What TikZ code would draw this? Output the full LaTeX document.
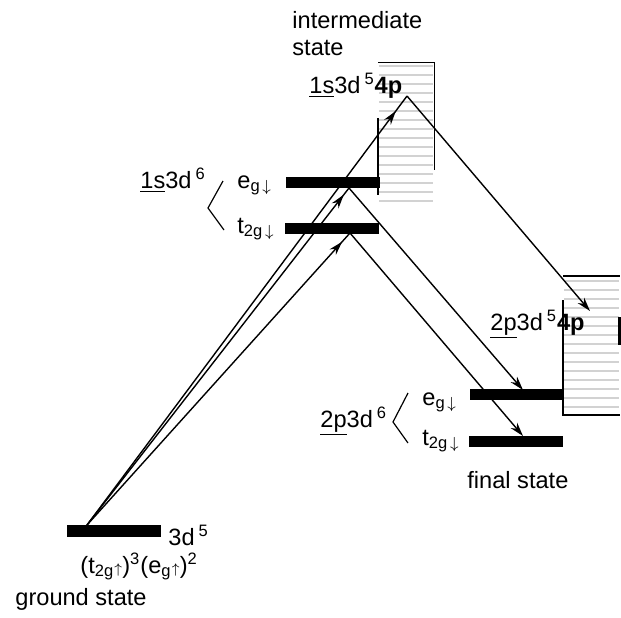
\documentclass[tikz,border=0pt]{standalone}
\usepackage{fontspec}
\setmainfont{Liberation Sans}
\usetikzlibrary{arrows.meta,decorations.markings}

\tikzset{
    level/.style={fill=black, inner sep=0pt, minimum width=47pt, minimum height=5.5pt},
    lbl/.style={anchor=base west, inner sep=0pt},
    trans/.style={line width=0.7pt},
    tipat/.style={postaction={decorate}, decoration={markings,
        mark=at position #1 with {\arrow{Stealth[length=7pt,width=4.2pt]}}}},
    hatch/.style={gray!35, line width=1.3pt},
}

\begin{document}
\begin{tikzpicture}[x=0.5pt, y=-0.5pt, font=\fontsize{11.8}{13.5}\selectfont]
    \useasboundingbox (0,0) rectangle (621,617);

    % 4p continuum boxes
    \foreach \yy in {66,75,...,203}
        \draw[hatch] (379,\yy) -- (433,\yy);
    \draw[line width=0.5pt] (378,62) -- (434,62) -- (434,170);
    \draw[line width=0.8pt] (378,118) -- (378,195);
    \foreach \yy in {281,290,...,411}
        \draw[hatch] (564,\yy) -- (619,\yy);
    \draw[line width=0.8pt] (563,276) -- (620,276);
    \draw[line width=0.8pt] (563,300) -- (563,415) -- (620,415);
    \draw[line width=1.2pt] (619.4,317) -- (619.4,345);

    % Levels
    \node[level, minimum height=6pt] (gs) at (113.5,531) {};
    \node[level] (ieg) at (332.5,182) {};
    \node[level] (it2g) at (331.5,228.5) {};
    \node[level] (feg) at (516.5,394.5) {};
    \node[level] (ft2g) at (515.5,441.5) {};

    % Transition points
    \coordinate (g0) at (87,525);
    \coordinate (i4p) at (407,96);
    \coordinate (ieg0) at (349,188);
    \coordinate (it2g0) at (350,233);
    \coordinate (f4p) at (590,311);
    \coordinate (feg0) at (523,390);
    \coordinate (ft2g0) at (523,436);

    % Transitions
    \draw[trans, tipat=0.965] (g0) -- (i4p);
    \draw[trans, tipat=0.98] (g0) -- (ieg0);
    \draw[trans, tipat=0.97] (g0) -- (it2g0);
    \draw[trans, -{Stealth[length=7pt,width=4.2pt]}] (i4p) -- (f4p);
    \draw[trans, -{Stealth[length=7pt,width=4.2pt]}] (ieg0) -- (feg0);
    \draw[trans, -{Stealth[length=7pt,width=4.2pt]}] (it2g0) -- (ft2g0);

    % Brackets
    \draw[line width=0.6pt] (223,181) -- (208,208) -- (224,230);
    \draw[line width=0.6pt] (408,393) -- (393,422) -- (408,443);

    % Labels
    \node[lbl] (intm) at (292,28) {intermediate};
    \node[lbl] (intst) at (292,55) {state};
    \node[lbl] (i4plbl) at (309,93) {\underline{1s}3d\,\textsuperscript{5}\textbf{4p}};
    \node[lbl] (ilbl) at (140,188) {\underline{1s}3d\,\textsuperscript{6}};
    \node[lbl] (ieglbl) at (237,188) {e\textsubscript{g\,$\downarrow$}};
    \node[lbl] (it2glbl) at (237,233) {t\textsubscript{2g\,$\downarrow$}};
    \node[lbl] (f4plbl) at (490,330) {\underline{2p}3d\,\textsuperscript{5}\textbf{4p}};
    \node[lbl] (flbl) at (320,427) {\underline{2p}3d\,\textsuperscript{6}};
    \node[lbl] (feglbl) at (422,405) {e\textsubscript{g\,$\downarrow$}};
    \node[lbl] (ft2glbl) at (422,445) {t\textsubscript{2g\,$\downarrow$}};
    \node[lbl] (fst) at (467,488) {final state};
    \node[lbl] (gslbl) at (168,545) {3d\,\textsuperscript{5}};
    \node[lbl] (gscfg) at (80,573) {(t\textsubscript{2g}{\scriptsize$\uparrow$})\textsuperscript{3}(e\textsubscript{g}{\scriptsize$\uparrow$})\textsuperscript{2}};
    \node[lbl] (gst) at (15,605) {ground state};
\end{tikzpicture}
\end{document}
